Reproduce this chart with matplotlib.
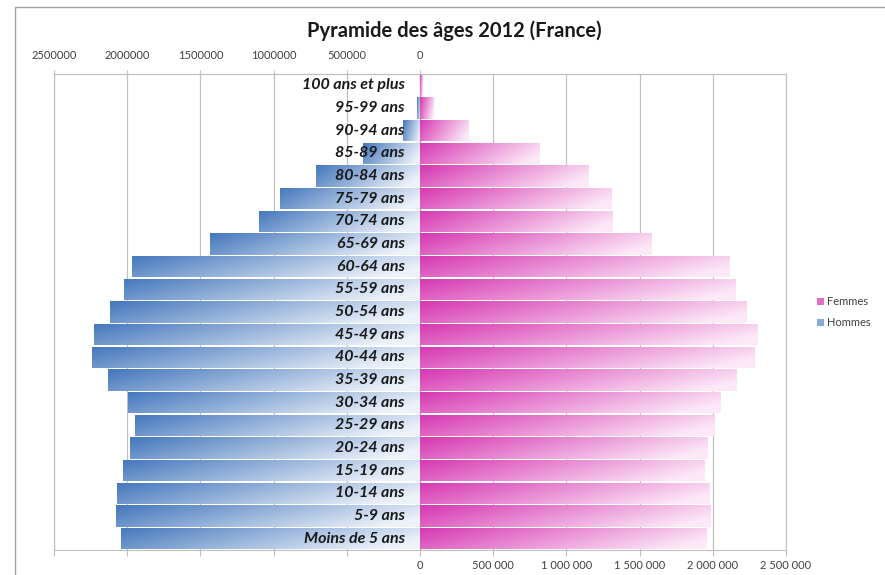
import numpy as np
import matplotlib
matplotlib.use("Agg")
import matplotlib.pyplot as plt
from matplotlib.patches import Patch, Rectangle
from matplotlib.ticker import FuncFormatter

# age groups, bottom to top
ages = ["Moins de 5 ans", "5-9 ans", "10-14 ans", "15-19 ans", "20-24 ans",
        "25-29 ans", "30-34 ans", "35-39 ans", "40-44 ans", "45-49 ans",
        "50-54 ans", "55-59 ans", "60-64 ans", "65-69 ans", "70-74 ans",
        "75-79 ans", "80-84 ans", "85-89 ans", "90-94 ans", "95-99 ans",
        "100 ans et plus"]

hommes = [2041000, 2078000, 2068000, 2032000, 1982000,
          1947000, 1993000, 2128000, 2242000, 2226000,
          2119000, 2020000, 1968000, 1432000, 1100000,
          959000, 708000, 392000, 118000, 23000,
          3000]

femmes = [1959000, 1986000, 1975000, 1941000, 1963000,
          2009000, 2055000, 2162000, 2288000, 2306000,
          2231000, 2158000, 2112000, 1580000, 1317000,
          1306000, 1149000, 813000, 333000, 91000,
          18000]

ticks_h = [-2500000, -2000000, -1500000, -1000000, -500000, 0]
ticks_f = [0, 500000, 1000000, 1500000, 2000000, 2500000]

plt.rcParams["font.family"] = ["Lato", "DejaVu Sans"]

BLUE_D = np.array([0.27, 0.47, 0.74])
BLUE_L = np.array([0.93, 0.95, 0.98])
PINK_D = np.array([0.84, 0.22, 0.70])
PINK_L = np.array([0.99, 0.91, 0.97])


def gradient(dark, light, n=80, m=16):
    h = np.linspace(0, 1, n)[None, :]
    v = np.linspace(0, 1, m)[:, None]
    t = np.clip(0.85 * h + 0.25 * v, 0, 1)[..., None]
    return dark * (1 - t) + light * t


fig = plt.figure(figsize=(8.85, 5.75), dpi=100)
ax = fig.add_axes([54 / 885, 1 - 550 / 575, (786 - 54) / 885, (550 - 74) / 575])

y = np.arange(len(ages))
neg_h = [-v for v in hommes]
bars_h = ax.barh(y, neg_h, height=0.94, color="none", edgecolor="none", zorder=2)
bars_f = ax.barh(y, femmes, height=0.94, color="none", edgecolor="none", zorder=2)

g_h = gradient(BLUE_D, BLUE_L)
g_f = gradient(PINK_D, PINK_L)
for bars, g in ((bars_h, g_h), (bars_f, g_f)):
    for p in bars:
        x0, y0 = p.get_x(), p.get_y()
        w, hgt = p.get_width(), p.get_height()
        xa, xb = min(x0, x0 + w), max(x0, x0 + w)
        im = ax.imshow(g, extent=[xa, xb, y0, y0 + hgt], aspect="auto",
                       zorder=2, interpolation="bilinear")
        im.set_clip_path(p)

for i, lab in enumerate(ages):
    ax.annotate(lab, xy=(0, i), xytext=(-11, 0), textcoords="offset points",
                ha="right", va="center", fontsize=11.5, fontweight="bold",
                fontstyle="italic", color="#1a1a1a", zorder=3)

ax.set_xlim(-2500000, 2500000)
ax.set_ylim(-0.5, len(ages) - 0.5)
ax.set_yticks([])

ax.set_xticks(ticks_h + ticks_f[1:])
ax.xaxis.set_major_formatter(FuncFormatter(
    lambda v, pos: "" if v < 0 else f"{int(v):,}".replace(",", " ")))
ax.tick_params(axis="x", length=4, color="#bfbfbf", labelsize=8,
               labelcolor="#404040", pad=3)
ax.grid(axis="x", color="#c0c0c0", linewidth=0.9, zorder=0)
ax.set_axisbelow(True)

top = ax.secondary_xaxis("top")
top.set_xticks(ticks_h)
top.xaxis.set_major_formatter(FuncFormatter(lambda v, pos: f"{int(abs(v))}"))
top.tick_params(axis="x", length=3, color="#bfbfbf", labelsize=8,
                labelcolor="#404040", pad=6)
top.spines["top"].set_color("#bfbfbf")

for s in ax.spines.values():
    s.set_color("#bfbfbf")

ax.axvline(0, color="#a6a6a6", linewidth=0.9, zorder=1)

fig.text(454 / 885, 1 - 31 / 575, "Pyramide des âges 2012 (France)",
         ha="center", va="center", fontsize=14.5, fontweight="bold",
         color="#1a1a1a")

handles = [Patch(facecolor=PINK_D * 0.7 + PINK_L * 0.3, label="Femmes"),
           Patch(facecolor=BLUE_D * 0.6 + BLUE_L * 0.4, label="Hommes")]
fig.legend(handles=handles, loc="center left", bbox_to_anchor=(807 / 885, 1 - 312 / 575),
           frameon=False, fontsize=8, labelcolor="#404040", handlelength=0.6,
           handleheight=0.6, handletextpad=0.3, labelspacing=0.9)

fig.patches.append(Rectangle((15 / 885, -0.1), 1.2, 1 - 7 / 575 + 0.1,
                             transform=fig.transFigure, fill=False,
                             edgecolor="#a0a0a0", linewidth=1))

fig.savefig("out.png", dpi=100)
